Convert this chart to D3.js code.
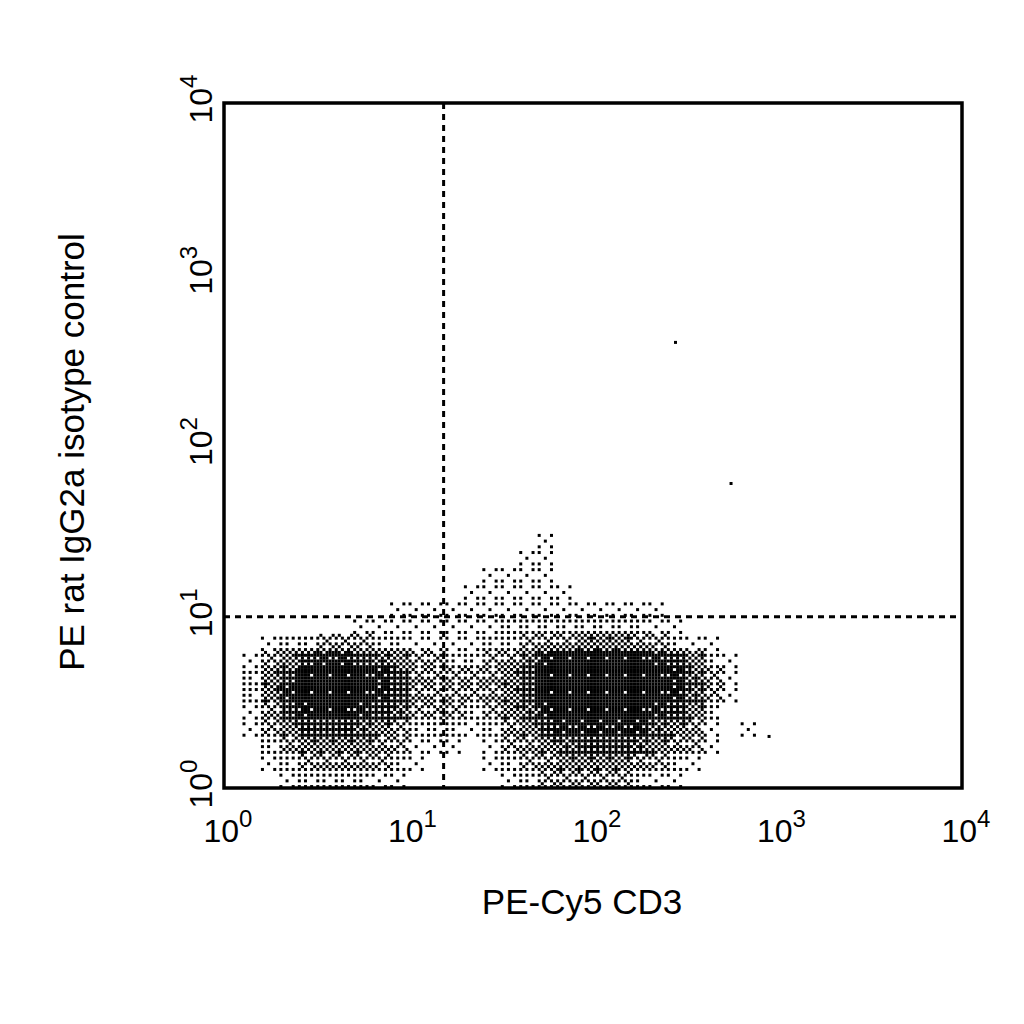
<!DOCTYPE html><html><head><meta charset="utf-8">
<script src="https://cdn.jsdelivr.net/npm/d3@7"></script>
<style>body{margin:0;background:#fff}</style></head><body>
<svg id="c" width="1024" height="1024"></svg>
<script>
const xTicks=[0,1,2,3,4], yTicks=[0,1,2,3,4];
const xTitle="PE-Cy5 CD3", yTitle="PE rat IgG2a isotype control";
const xGate=15.5, yGate=10;
// density grid: rows top (log y 1.4-1.5) to bottom (0.0-0.1), cols log x 0.0..3.0 step 0.1
const densRows=[
"000000000000000001000000000000",
"000000000000000011000000000000",
"000000000000001111000000000000",
"000000000000011111100000000000",
"000000000111111111111111000000",
"000000011111111222222221100000",
"001223332211112234455543211000",
"013578876533223468999998752100",
"025799998743334579999999863100",
"025899998743334579999999863100",
"014789987633323568999998752000",
"013577765322212457888886541010",
"002455554311101345677765431000",
"001234443210001234555543210000",
"000122221100000123333321100000"];
const outX=[280,560,900], outY=[400,60,2.0];

const svg=d3.select("#c");
const L=224,R=962,T=103,B=788;
const x=d3.scaleLog().domain([1,1e4]).range([L,R]);
const y=d3.scaleLog().domain([1,1e4]).range([B,T]);
const bayer=[0,32,8,40,2,34,48,16,56,24,50,18,12,44,4,36,14,46,60,28,52,20,62,30,3,35,11,43,1,33,51,19,59,27,49,17,15,47,7,39,13,45,63,31,55,23,61,29];
const dots=[];
densRows.forEach((row,ri)=>{
  const ly=1.4-ri*0.1;
  [...row].forEach((ch,ci)=>{
    const d=+ch; if(!d) return;
    const lx=ci*0.1;
    for(let a=0;a<6;a++)for(let b=0;b<6;b++){
      const k=bayer[(a*6+b)%bayer.length]/64;
      if(k<d/9.5) dots.push([Math.pow(10,lx+(b+0.5)/60),Math.pow(10,ly+(a+0.5)/60)]);
    }
  });
});
outX.forEach((v,i)=>dots.push([v,outY[i]]));
svg.append("g").selectAll("rect").data(dots).join("rect")
 .attr("x",d=>x(d[0])-1.5).attr("y",d=>y(d[1])-1.5).attr("width",3).attr("height",3).attr("fill","#000");
svg.append("line").attr("x1",x(xGate)).attr("x2",x(xGate)).attr("y1",T).attr("y2",B)
 .attr("stroke","#000").attr("stroke-width",3).attr("stroke-dasharray","6,5");
svg.append("line").attr("x1",L).attr("x2",R).attr("y1",y(yGate)).attr("y2",y(yGate))
 .attr("stroke","#000").attr("stroke-width",3).attr("stroke-dasharray","6,5");
svg.append("rect").attr("x",L).attr("y",T).attr("width",R-L).attr("height",B-T)
 .attr("fill","none").attr("stroke","#000").attr("stroke-width",3.5);
const f="Liberation Sans, Arial, sans-serif";
xTicks.forEach(t=>{
  const tx=svg.append("text").attr("x",x(Math.pow(10,t))+4).attr("y",842).attr("text-anchor","middle")
   .attr("font-family",f).attr("font-size",32);
  tx.append("tspan").text("10");
  tx.append("tspan").attr("dy",-15).attr("font-size",24).text(t);
});
yTicks.forEach(t=>{
  const g=svg.append("g").attr("transform",`translate(212,${y(Math.pow(10,t))-4}) rotate(-90)`);
  const tx=g.append("text").attr("text-anchor","middle").attr("font-family",f).attr("font-size",32);
  tx.append("tspan").text("10");
  tx.append("tspan").attr("dy",-15).attr("font-size",24).text(t);
});
svg.append("text").attr("x",582).attr("y",914).attr("text-anchor","middle").attr("font-family",f).attr("font-size",35).text(xTitle);
svg.append("text").attr("transform","translate(84,452) rotate(-90)").attr("text-anchor","middle").attr("font-family",f).attr("font-size",35).text(yTitle);
</script></body></html>
